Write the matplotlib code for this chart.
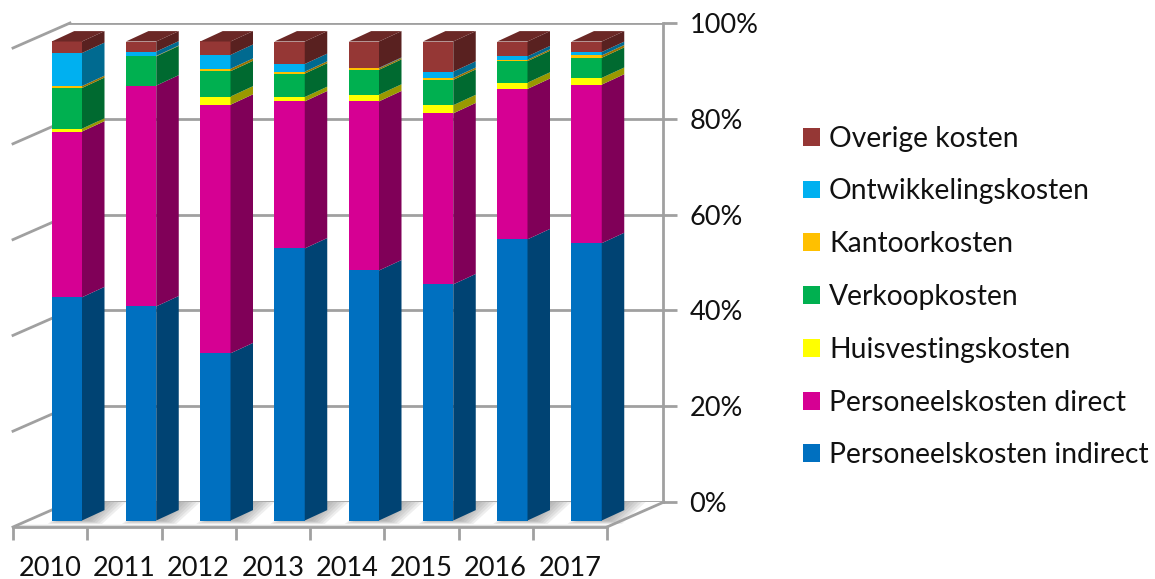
import matplotlib
matplotlib.use("Agg")
import matplotlib.pyplot as plt
from matplotlib.patches import Polygon, Patch
from matplotlib.colors import to_rgb

years = ["2010", "2011", "2012", "2013", "2014", "2015", "2016", "2017"]
personeel_indirect = [46.6, 44.7, 34.9, 56.8, 52.2, 49.3, 58.7, 57.9]
personeel_direct = [34.6, 46.1, 51.9, 30.7, 35.3, 35.7, 31.4, 33.1]
huisvesting = [0.6, 0.0, 1.7, 0.9, 1.4, 1.7, 1.3, 1.4]
verkoop = [8.5, 6.1, 5.3, 4.9, 5.2, 5.3, 4.5, 4.2]
kantoor = [0.4, 0.1, 0.5, 0.4, 0.3, 0.4, 0.3, 0.5]
ontwikkeling = [6.9, 0.9, 2.9, 1.6, 0.1, 1.3, 0.7, 0.7]
overig = [2.4, 2.1, 2.8, 4.7, 5.5, 6.3, 3.1, 2.2]

series = [
    ("Personeelskosten indirect", personeel_indirect, "#0070C0"),
    ("Personeelskosten direct", personeel_direct, "#D60093"),
    ("Huisvestingskosten", huisvesting, "#FFFF00"),
    ("Verkoopkosten", verkoop, "#00B050"),
    ("Kantoorkosten", kantoor, "#FFC000"),
    ("Ontwikkelingskosten", ontwikkeling, "#00B0F0"),
    ("Overige kosten", overig, "#953735"),
]
y_ticks = [0, 20, 40, 60, 80, 100]

W, H = 1155, 579
FONT = "Lato"
FS = 19.5
FS_LEG = 20.3
GRID = "#A0A0A0"

def rect(l, t, r, b):
    return [l / W, 1 - b / H, (r - l) / W, (b - t) / H]

def shade(c, f):
    return tuple(v * f for v in to_rgb(c))

fig = plt.figure(figsize=(W / 100, H / 100), dpi=100)

# back wall: gridlines, right-hand axis
wall = fig.add_axes(rect(69, 23, 663, 502), facecolor="none", zorder=1)
wall.set_xlim(0, 8)
wall.set_ylim(0, 100)
wall.set_xticks([])
wall.set_yticks(y_ticks)
wall.set_yticklabels([f"{v}%" for v in y_ticks], fontsize=FS, family=FONT, color="#111111")
wall.yaxis.tick_right()
wall.tick_params(axis="y", length=10, width=2, color=GRID, pad=9)
for s in ("top", "left", "bottom"):
    wall.spines[s].set_visible(False)
wall.spines["right"].set_color(GRID)
wall.spines["right"].set_linewidth(2)
wall.grid(axis="y", color=GRID, lw=2)
wall.set_axisbelow(True)

# front plane: bars and category axis
ax = fig.add_axes(rect(13, 48, 607, 527), facecolor="none", zorder=2)
ax.set_xlim(0, 8)
ax.set_ylim(0, 100)
ax.set_yticks([])
ax.set_xticks(range(9))
ax.set_xticklabels([])
ax.set_xticks([i + 0.5 for i in range(8)], minor=True)
ax.set_xticklabels(years, minor=True, fontsize=FS, family=FONT, color="#111111")
ax.tick_params(axis="x", which="major", length=9, width=2, color=GRID)
ax.tick_params(axis="x", which="minor", length=0, pad=21)
for s in ("top", "left", "right"):
    ax.spines[s].set_visible(False)
ax.spines["bottom"].set_color(GRID)
ax.spines["bottom"].set_linewidth(2)

# conversions of the 3D projection into front-plane data units
px_x = 8 / (607 - 13)
px_y = 100 / (527 - 48)
depth_x = 57 * px_x        # wall offset
depth_y = 25 * px_y
bar_l = 38.7 * px_x
bar_w = 30.3 * px_x
bar_dx = 22.5 * px_x
bar_dy = 10.4 * px_y
lift = 6.5 * px_y

# side walls and floor
for y in y_ticks:
    ax.plot([0, depth_x], [y, y + depth_y], color=GRID, lw=2, clip_on=False, zorder=1)
ax.add_patch(Polygon([(0, 0), (8, 0), (8 + 5 * px_x, 2.2 * px_y), (5 * px_x, 2.2 * px_y)],
                     closed=True, fc="#DEDEDE", ec="none", clip_on=False, zorder=0.5))
ax.plot([8, 8 + depth_x], [0, depth_y], color=GRID, lw=2, clip_on=False, zorder=1)

for i in range(len(years)):
    x0 = i + bar_l
    x1 = x0 + bar_w
    # soft floor shadow, built up from nested translucent layers
    for k in range(6):
        g = k * 2.5
        ax.add_patch(Polygon([(x0 + (g - 4) * px_x, (3 + g * 0.25) * px_y),
                              (x1 + (20 - g) * px_x, (3 + g * 0.25) * px_y),
                              (x1 + (44 - 1.5 * g) * px_x, depth_y),
                              (x0 + bar_dx, depth_y)],
                             closed=True, fc="#808080", alpha=0.13, ec="none", clip_on=False, zorder=0.8))
    base = lift
    for j, (name, vals, col) in enumerate(series):
        v = vals[i]
        if v <= 0:
            continue
        ax.bar(x0, v, width=bar_w, bottom=base, align="edge", color=col, lw=0,
               clip_on=False, zorder=3 + 0.01 * j)
        ax.add_patch(Polygon([(x1, base), (x1 + bar_dx, base + bar_dy),
                              (x1 + bar_dx, base + v + bar_dy), (x1, base + v)],
                             closed=True, fc=shade(col, 0.6), ec="none", clip_on=False,
                             zorder=3 + 0.01 * j))
        base += v
    top_col = series[-1][2]
    ax.add_patch(Polygon([(x0, base), (x1, base), (x1 + bar_dx, base + bar_dy), (x0 + bar_dx, base + bar_dy)],
                         closed=True, fc=shade(top_col, 0.72), ec="none", clip_on=False, zorder=3.2))

handles = [Patch(fc=c, ec="none", label=n) for n, _, c in reversed(series)]
fig.legend(handles=handles, loc="center left", bbox_to_anchor=(803 / W, 1 - 297 / H), frameon=False,
           prop={"family": FONT, "size": FS_LEG}, labelcolor="#111111",
           handlelength=0.6, handleheight=0.6, handletextpad=0.32, labelspacing=0.95,
           borderpad=0, borderaxespad=0)

fig.savefig("out.png", dpi=100)
